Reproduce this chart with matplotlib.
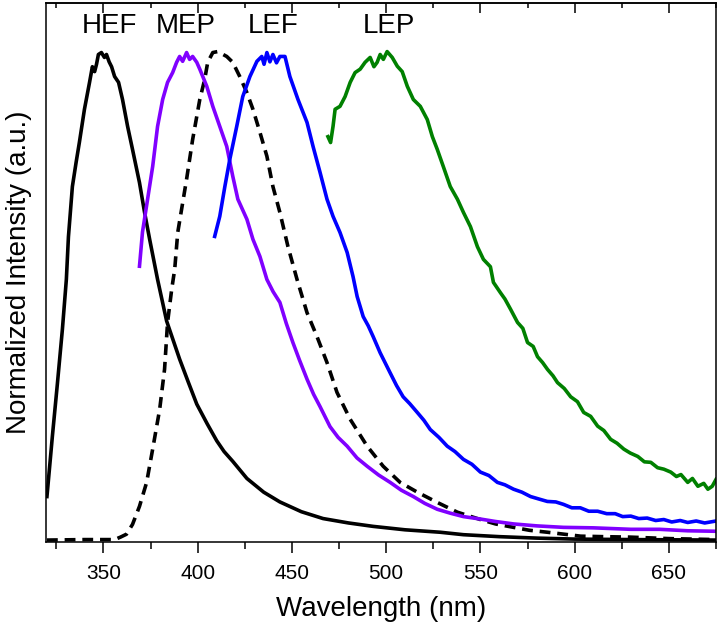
import matplotlib
matplotlib.use('Agg')
import matplotlib.pyplot as plt
from matplotlib.ticker import MultipleLocator

plt.rcParams['font.family'] = ['Liberation Sans', 'DejaVu Sans']

# HEF (black solid)
hef_x = [320, 322.9, 325.5, 328.2, 330.3, 331.4, 333.5, 335.5, 337.2, 339.9,
         342.6, 344.1, 345.3, 346.3, 347.3, 348.9, 350.5, 351.6, 353.0, 354.3,
         355.9, 358.0, 360.1, 362.8, 365.4, 369.1, 371.8, 374.5, 378.7, 383.5,
         390.4, 395.0, 399.5, 405.0, 410.1, 414.0, 418.6, 426.1, 435.0, 443.6,
         455.0, 466.5, 480.0, 493.1, 510.0, 528.7, 541.0, 560.0, 580.0, 600.0,
         630.0, 675.0]
hef_y = [0.091, 0.215, 0.320, 0.433, 0.535, 0.622, 0.725, 0.775, 0.815, 0.883,
         0.938, 0.970, 0.960, 0.975, 0.995, 0.999, 0.989, 0.995, 0.980, 0.970,
         0.950, 0.938, 0.903, 0.848, 0.801, 0.733, 0.672, 0.617, 0.535, 0.450,
         0.372, 0.325, 0.280, 0.240, 0.205, 0.183, 0.163, 0.128, 0.100, 0.080,
         0.060, 0.046, 0.037, 0.030, 0.023, 0.018, 0.013, 0.009, 0.006, 0.004,
         0.003, 0.002]

# MEP (violet)
mep_x = [369.1, 370.7, 373.4, 376.1, 378.7, 381.4, 384.0, 386.7, 388.8, 390.4,
         392.0, 394.1, 395.7, 397.3, 399.5, 401.1, 404.8, 408.0, 411.7, 415.4,
         418.6, 421.3, 426.1, 429.3, 433.0, 436.7, 440.0, 443.6, 447.0, 450.5,
         454.0, 458.0, 461.5, 464.9, 470.2, 474.5, 479.3, 484.5, 489.9, 496.0,
         502.1, 508.0, 514.4, 520.5, 527.1, 534.0, 541.0, 550.0, 558.0, 567.6,
         580.0, 594.1, 610.0, 629.8, 645.0, 660.0, 675.0]
mep_y = [0.562, 0.632, 0.699, 0.766, 0.848, 0.903, 0.938, 0.958, 0.979, 0.991,
         0.981, 0.999, 0.985, 0.991, 0.979, 0.965, 0.930, 0.889, 0.848, 0.807,
         0.746, 0.699, 0.658, 0.617, 0.582, 0.535, 0.510, 0.488, 0.445, 0.406,
         0.370, 0.331, 0.300, 0.275, 0.234, 0.212, 0.194, 0.170, 0.153, 0.135,
         0.120, 0.104, 0.091, 0.077, 0.065, 0.057, 0.050, 0.045, 0.040, 0.035,
         0.031, 0.028, 0.027, 0.024, 0.024, 0.021, 0.020]

# dashed black
dash_x = [320, 340, 355.9, 359.0, 362.2, 365.4, 369.1, 372.9, 376.1, 379.8,
          382.4, 384.0, 386.2, 387.8, 389.4, 394.1, 397.3, 401.1, 403.7, 405.3,
          408.0, 410.6, 415.4, 418.6, 422.3, 426.1, 429.3, 433.0, 436.7, 439.9,
          443.6, 447.9, 452.7, 458.0, 463.3, 468.6, 473.9, 480.9, 489.9, 498.4,
          507.4, 516.5, 527.1, 537.8, 550.0, 558.0, 567.6, 576.0, 585.6, 603.2,
          615.0, 629.8, 650.0, 675.0]
dash_y = [0.002, 0.003, 0.003, 0.008, 0.014, 0.034, 0.071, 0.120, 0.188, 0.269,
          0.351, 0.447, 0.515, 0.556, 0.631, 0.740, 0.821, 0.903, 0.944, 0.979,
          0.999, 1.001, 0.991, 0.979, 0.950, 0.917, 0.883, 0.836, 0.787, 0.725,
          0.672, 0.602, 0.535, 0.467, 0.418, 0.365, 0.304, 0.249, 0.194, 0.153,
          0.120, 0.100, 0.079, 0.059, 0.044, 0.035, 0.028, 0.022, 0.018, 0.010,
          0.009, 0.008, 0.005, 0.003]

# LEF (blue)
lef_x = [409.0, 411.7, 414.4, 417.0, 420.7, 423.9, 427.7, 429.5, 431.4, 434.0,
         435.2, 436.7, 438.3, 439.9, 441.8, 443.6, 446.3, 448.9, 453.2, 458.0,
         461.2, 464.9, 468.6, 471.8, 475.5, 479.3, 482.4, 484.6, 487.8, 490.5,
         493.1, 496.8, 502.1, 505.5, 509.0, 512.5, 516.5, 520.0, 523.4, 528.0,
         532.4, 536.5, 541.0, 545.5, 550.0, 554.5, 559.0, 563.0, 567.6, 572.0,
         576.6, 581.0, 585.5, 590.0, 594.1, 598.5, 603.0, 607.5, 612.2, 617.0,
         621.5, 625.5, 629.8, 634.0, 638.5, 643.0, 647.3, 651.5, 656.0, 660.0,
         664.5, 669.0, 675.0]
lef_y = [0.623, 0.664, 0.725, 0.780, 0.848, 0.909, 0.950, 0.965, 0.981, 0.991,
         0.975, 0.999, 0.980, 0.995, 0.978, 0.991, 0.991, 0.950, 0.903, 0.856,
         0.807, 0.754, 0.699, 0.664, 0.631, 0.590, 0.541, 0.500, 0.459, 0.440,
         0.418, 0.385, 0.344, 0.318, 0.295, 0.281, 0.263, 0.247, 0.228, 0.212,
         0.194, 0.183, 0.167, 0.157, 0.141, 0.134, 0.120, 0.115, 0.106, 0.100,
         0.091, 0.086, 0.081, 0.080, 0.075, 0.068, 0.068, 0.061, 0.061, 0.056,
         0.056, 0.050, 0.051, 0.046, 0.047, 0.042, 0.044, 0.039, 0.042, 0.038,
         0.041, 0.037, 0.041]

# LEP (green)
lep_x = [469.1, 470.5, 471.8, 472.9, 475.5, 478.2, 480.9, 483.5, 486.2, 488.8,
         491.5, 493.5, 495.2, 496.8, 498.5, 500.5, 503.2, 505.9, 508.5, 511.2,
         514.4, 518.1, 521.8, 524.5, 527.1, 530.3, 534.0, 537.8, 541.0, 544.7,
         548.4, 551.6, 555.3, 556.9, 560.6, 563.0, 566.0, 569.7, 572.5, 575.0,
         578.0, 580.3, 583.0, 585.6, 588.5, 590.9, 594.5, 597.9, 601.5, 604.8,
         608.5, 612.2, 615.5, 619.1, 622.5, 626.1, 629.5, 633.5, 637.0, 640.4,
         644.0, 647.3, 651.0, 654.0, 656.4, 660.0, 662.5, 665.4, 668.5, 670.7,
         673.0, 675.0]
lep_y = [0.827, 0.815, 0.848, 0.883, 0.889, 0.909, 0.938, 0.958, 0.965, 0.979,
         0.989, 0.970, 0.979, 0.995, 0.985, 1.001, 0.989, 0.971, 0.960, 0.930,
         0.903, 0.889, 0.862, 0.827, 0.801, 0.766, 0.725, 0.699, 0.672, 0.643,
         0.602, 0.576, 0.561, 0.529, 0.508, 0.495, 0.474, 0.447, 0.435, 0.406,
         0.398, 0.377, 0.365, 0.351, 0.338, 0.324, 0.312, 0.295, 0.285, 0.263,
         0.255, 0.235, 0.226, 0.208, 0.200, 0.188, 0.180, 0.173, 0.162, 0.161,
         0.150, 0.147, 0.141, 0.132, 0.136, 0.120, 0.128, 0.112, 0.118, 0.106,
         0.112, 0.126]

labels = ['HEF', 'MEP', 'LEF', 'LEP']
label_x = [353, 393.4, 440, 501.5]

fig = plt.figure(figsize=(7.2, 6.31), dpi=100)
ax = fig.add_axes([46 / 720, 0.141, 670 / 720, 0.854])

lw = 2.6
ax.plot(hef_x, hef_y, color='black', lw=lw)
ax.plot(dash_x, dash_y, color='black', lw=lw, dashes=(3.0, 1.9))
ax.plot(mep_x, mep_y, color='#8000FF', lw=lw)
ax.plot(lef_x, lef_y, color='#0000FF', lw=lw)
ax.plot(lep_x, lep_y, color='#008000', lw=lw)

for t, x in zip(labels, label_x):
    ax.text(x, 1.054, t, fontsize=20, ha='center', va='center')

ax.set_xlim(319.5, 675)
ax.set_ylim(-0.002, 1.1)
ax.set_yticks([])
ax.xaxis.set_major_locator(MultipleLocator(50))
ax.xaxis.set_minor_locator(MultipleLocator(25))
ax.tick_params(axis='x', which='major', direction='out', length=8, width=1.1, labelsize=15, pad=8)
ax.tick_params(axis='x', which='minor', direction='out', length=5, width=1.1)
for s in ax.spines.values():
    s.set_linewidth(1.1)

top = ax.secondary_xaxis('top')
top.xaxis.set_major_locator(MultipleLocator(50))
top.xaxis.set_minor_locator(MultipleLocator(25))
top.tick_params(which='major', direction='in', length=7.5, width=1.1, labeltop=False)
top.tick_params(which='minor', direction='in', length=3.5, width=1.1)
top.spines['top'].set_linewidth(1.1)

ax.set_xlabel('Wavelength (nm)', fontsize=20, labelpad=9)
ax.set_ylabel('Normalized Intensity (a.u.)', fontsize=20, labelpad=10)

fig.savefig('out.png', dpi=100)
